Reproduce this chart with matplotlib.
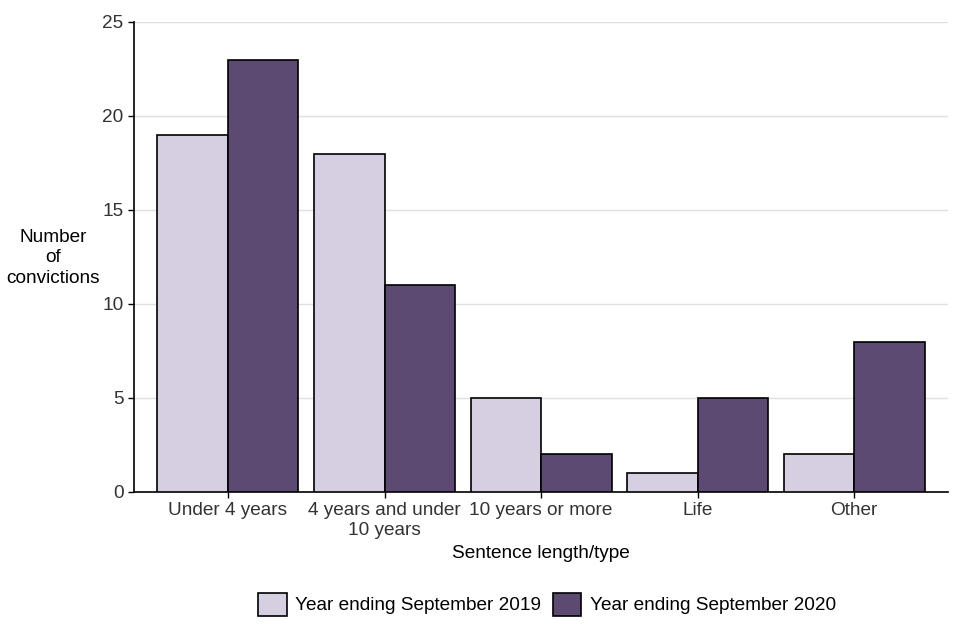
import matplotlib.pyplot as plt
import numpy as np
from matplotlib.patches import Patch

plt.rcParams['font.family'] = ['Liberation Sans', 'DejaVu Sans']

categories = ["Under 4 years", "4 years and under\n10 years", "10 years or more", "Life", "Other"]
series_names = ["Year ending September 2019", "Year ending September 2020"]
values_2019 = [19, 18, 5, 1, 2]
values_2020 = [23, 11, 2, 5, 8]
colors = ["#d6cfe1", "#5c4a72"]

fs = 13.7

fig = plt.figure(figsize=(9.6, 6.4), dpi=100)
ax = fig.add_axes([0.1396, 0.2313, 0.848, 0.7344])

x = np.arange(len(categories))
w = 0.45
ax.bar(x - w / 2, values_2019, w, color=colors[0], edgecolor="black", linewidth=1.2, zorder=3)
ax.bar(x + w / 2, values_2020, w, color=colors[1], edgecolor="black", linewidth=1.2, zorder=3)

ax.set_xlim(-0.6, 4.6)
ax.set_ylim(0, 25)
ax.set_yticks([0, 5, 10, 15, 20, 25])
ax.set_xticks(x)
ax.set_xticklabels(categories, linespacing=1.2)
ax.tick_params(axis="both", labelsize=fs, labelcolor="#333333", color="black", length=4, width=1)
ax.yaxis.grid(True, color="#e0e0e0", linewidth=1, zorder=0)
ax.set_axisbelow(True)
for s in ["top", "right"]:
    ax.spines[s].set_visible(False)
for s in ["left", "bottom"]:
    ax.spines[s].set_linewidth(1.2)

ax.set_xlabel("Sentence length/type", fontsize=fs, labelpad=4)
fig.text(0.055, 0.597, "Number\nof\nconvictions", ha="center", va="center",
         fontsize=fs, linespacing=1.25)

handles = [Patch(facecolor=c, edgecolor="black", linewidth=1.2) for c in colors]
fig.legend(handles, series_names, loc="center", bbox_to_anchor=(0.57, 0.056), ncol=2,
           frameon=False, fontsize=fs, handlelength=1.5, handleheight=1.5,
           handletextpad=0.45, columnspacing=0.6)

fig.savefig("out.png", dpi=100)
